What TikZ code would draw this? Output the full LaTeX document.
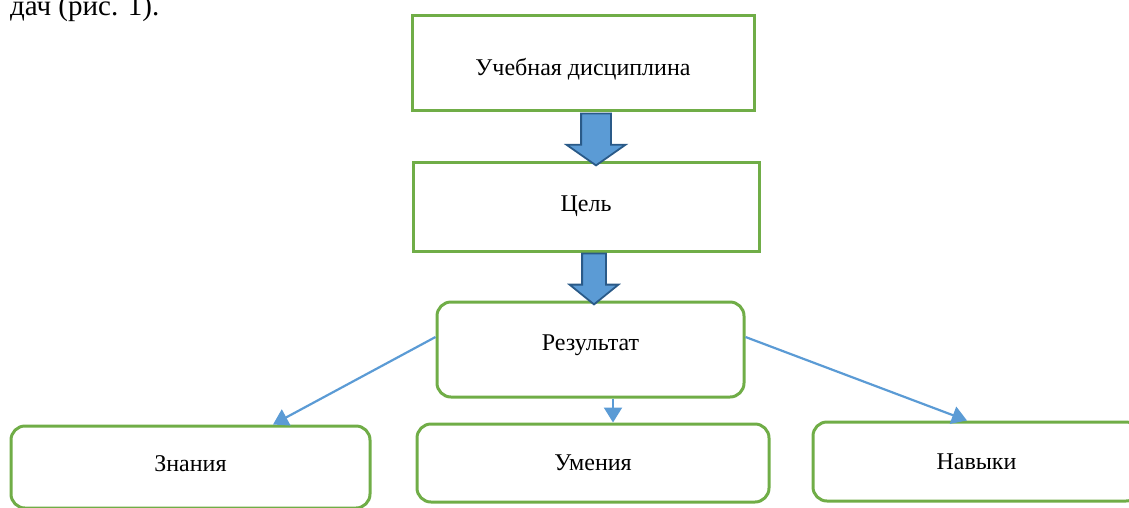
\documentclass[tikz,border=0pt]{standalone}
\usepackage{fontspec}
\setmainfont{Liberation Serif}
\usetikzlibrary{shapes, shapes.arrows, arrows.meta, calc, positioning}

\definecolor{boxgreen}{HTML}{70AD47}
\definecolor{arrowblue}{HTML}{5B9BD5}
\definecolor{arrowedge}{HTML}{2A5A88}

\begin{document}
\begin{tikzpicture}[
  x=1pt, y=-1pt,
  box/.style={draw=boxgreen, line width=3pt, inner sep=0pt, font=\fontsize{24}{28}\selectfont},
  roundbox/.style={box, rounded corners=14pt},
  fatarrow/.style={single arrow, draw=arrowedge, fill=arrowblue, line width=1.8pt, rotate=-90, inner xsep=0pt, anchor=tail},
  thinarrow/.style={draw=arrowblue, line width=2.2pt, -{Triangle[width=18pt,length=15pt]}}]

  \useasboundingbox (0,0) rectangle (1129,507);

  \node[anchor=base west, inner sep=0pt, font=\fontsize{29}{34}\selectfont] (ref) at (10,15) {дач (рис. 1).};

  \node[box, minimum width=342pt, minimum height=95pt, text height=30pt] (disc) at (583,62.5) {Учебная дисциплина};
  \node[box, minimum width=346pt, minimum height=89pt] (goal) at (586,206.5) {Цель};
  \node[roundbox, minimum width=307pt, minimum height=95pt, text depth=13pt] (res) at (590.5,349.5) {Результат};

  % bottom row runs past the page edge
  \node[roundbox, minimum width=359pt, minimum height=82pt, text depth=7pt] (know) at (190.5,467) {Знания};
  \node[roundbox, minimum width=352pt, minimum height=78pt] (skill) at (593,463) {Умения};
  \node[roundbox, minimum width=327pt, minimum height=79pt] (habit) at (976.5,461.5) {Навыки};

  \node[fatarrow, inner ysep=14pt, minimum height=52pt, single arrow head extend=14.5pt, single arrow tip angle=110] (down1) at ($(disc.south)+(13,1)$) {};
  \node[fatarrow, inner ysep=11pt, minimum height=51pt, single arrow head extend=12.5pt, single arrow tip angle=102] (down2) at ($(goal.south)+(8,0)$) {};

  \draw[thinarrow] ($(res.west)+(0,-12.5)$) -- ($(know.north)+(82.5,0)$);
  \draw[thinarrow] ($(res.south)+(22.5,0)$) -- ($(skill.north)+(20,0)$);
  \draw[thinarrow] ($(res.east)+(0,-12.5)$) -- ($(habit.north)+(-9.5,0)$);
\end{tikzpicture}
\end{document}
